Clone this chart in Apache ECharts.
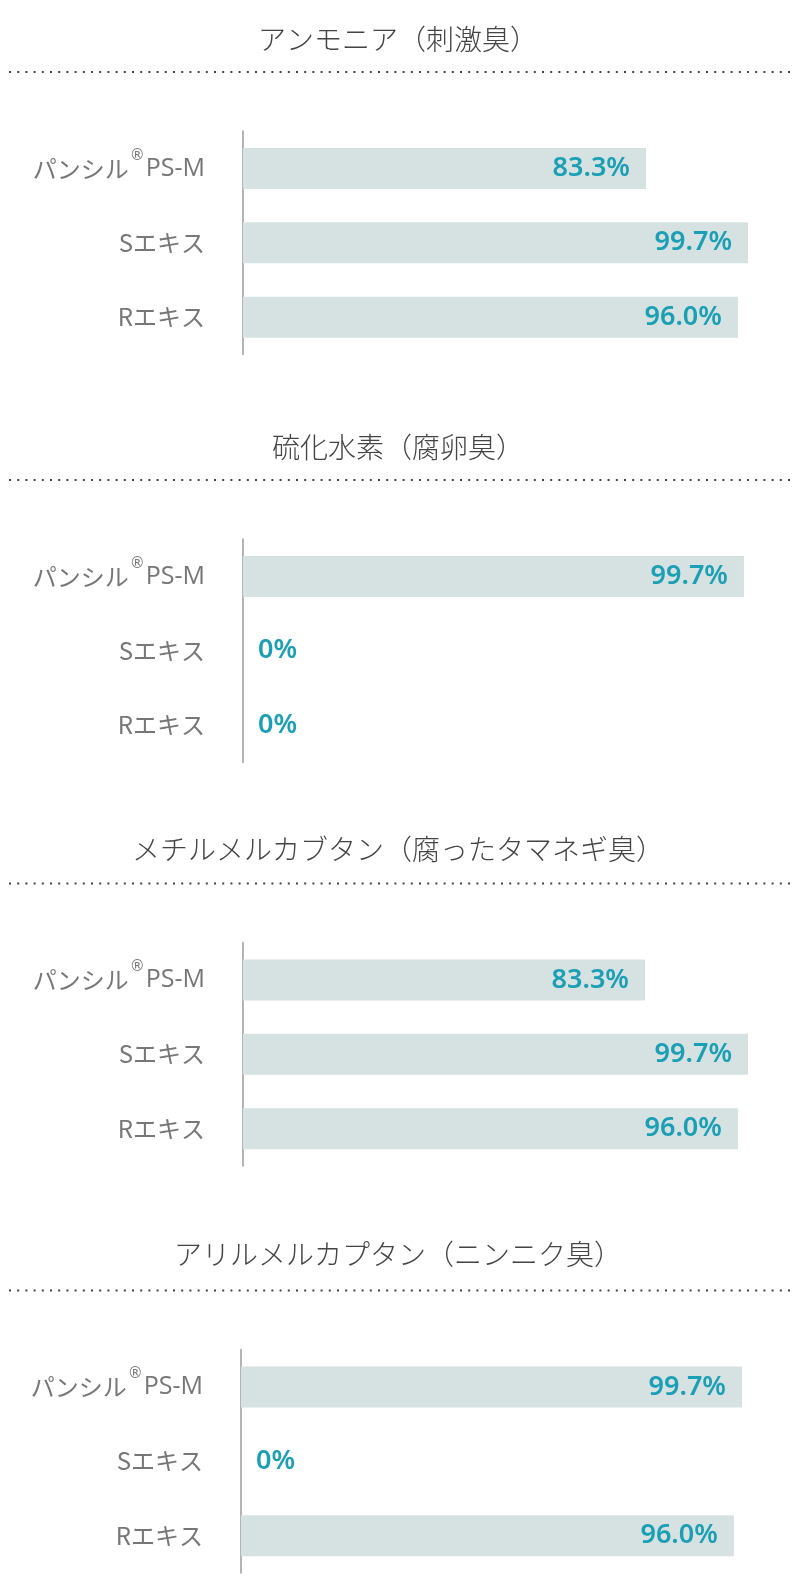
<!DOCTYPE html>
<html>
<head>
<meta charset="utf-8">
<script src="https://cdn.jsdelivr.net/npm/echarts@6/dist/echarts.min.js"></script>
<style>
  body { margin: 0; background: #fff; }
  #main { width: 796px; height: 1588px; }
</style>
</head>
<body>
<div id="main"></div>
<script>
// 各パネルのデータ
let categories = ['パンシル®PS-M', 'Sエキス', 'Rエキス'];
let titles = ['アンモニア（刺激臭）', '硫化水素（腐卵臭）', 'メチルメルカブタン（腐ったタマネギ臭）', 'アリルメルカプタン（ニンニク臭）'];

// 表示されている数値
let ammoniaText = ['83.3%', '99.7%', '96.0%'];
let sulfideText = ['99.7%', '0%', '0%'];
let methylText = ['83.3%', '99.7%', '96.0%'];
let allylText = ['99.7%', '0%', '96.0%'];

// バーの長さ（図から読み取り、トラック幅に対する%）
let ammoniaBar = [79.8, 100, 98];
let sulfideBar = [99.2, 0, 0];
let methylBar = [79.6, 100, 98];
let allylBar = [99.2, 0, 97.6];

let panelText = [ammoniaText, sulfideText, methylText, allylText];
let panelBar = [ammoniaBar, sulfideBar, methylBar, allylBar];

// レイアウト
let barCenter = [168.5, 576.5, 980, 1387];
let titleY = [37.5, 445.6, 847.6, 1252.7];
let axisLeft = [243, 243, 243, 241];
let trackWidth = 505;

let chart = echarts.init(document.getElementById('main'));

let grids = [], xAxes = [], yAxes = [], series = [], titleList = [], graphics = [];

for (let i = 0; i < 4; i++) {
      let top = barCenter[i] - 37.2;
      grids.push({ left: axisLeft[i], top: top, width: trackWidth, height: 223 });

      xAxes.push({ gridIndex: i, type: 'value', min: 0, max: 100, show: false });

      yAxes.push({
            gridIndex: i,
            type: 'category',
            data: categories,
            inverse: true,
            axisLine: { show: true, lineStyle: { color: '#b4b4b4', width: 2 } },
            axisTick: { show: false },
            axisLabel: {
                  margin: 38,
                  fontSize: 24,
                  color: '#777',
                  fontFamily: 'Noto Sans CJK JP',
                  formatter: function (v) {
                        return v.replace('®', '{sup|®}').replace('PS-M', '{lat|PS-M}');
                  },
                  rich: {
                        sup: { fontSize: 15, color: '#777', fontFamily: 'DejaVu Sans', verticalAlign: 'top', padding: [0, 1, 25, 1] },
                        lat: { fontSize: 25, color: '#777', fontFamily: 'Open Sans' }
                  }
            }
      });

      let texts = panelText[i];
      series.push({
            type: 'bar',
            xAxisIndex: i,
            yAxisIndex: i,
            barWidth: 41,
            silent: true,
            itemStyle: { color: '#d6e1e1' },
            data: panelBar[i].map(function (v) {
                  return {
                        value: v,
                        label: v === 0 ? { position: 'right', distance: 15 } : { position: 'insideRight', distance: 16 }
                  };
            }),
            label: {
                  show: true,
                  fontSize: 27,
                  fontWeight: 600,
                  fontFamily: 'Noto Sans',
                  color: '#1b9fb4',
                  formatter: function (p) {
                        return texts[p.dataIndex];
                  }
            }
      });

      titleList.push({
            text: titles[i],
            left: 'center',
            top: titleY[i] - 19,
            textStyle: { fontSize: 28, fontWeight: 300, color: '#444', fontFamily: 'Noto Sans CJK JP', lineHeight: 32 }
      });

      let lineY = barCenter[i] - 96.5;
      graphics.push({
            type: 'line',
            shape: { x1: 9, y1: lineY, x2: 792, y2: lineY },
            style: { stroke: '#444', lineWidth: 2, lineDash: [2, 6.2] },
            silent: true
      });
}

chart.setOption({
      animation: false,
      title: titleList,
      grid: grids,
      xAxis: xAxes,
      yAxis: yAxes,
      series: series,
      graphic: graphics
});
</script>
</body>
</html>
